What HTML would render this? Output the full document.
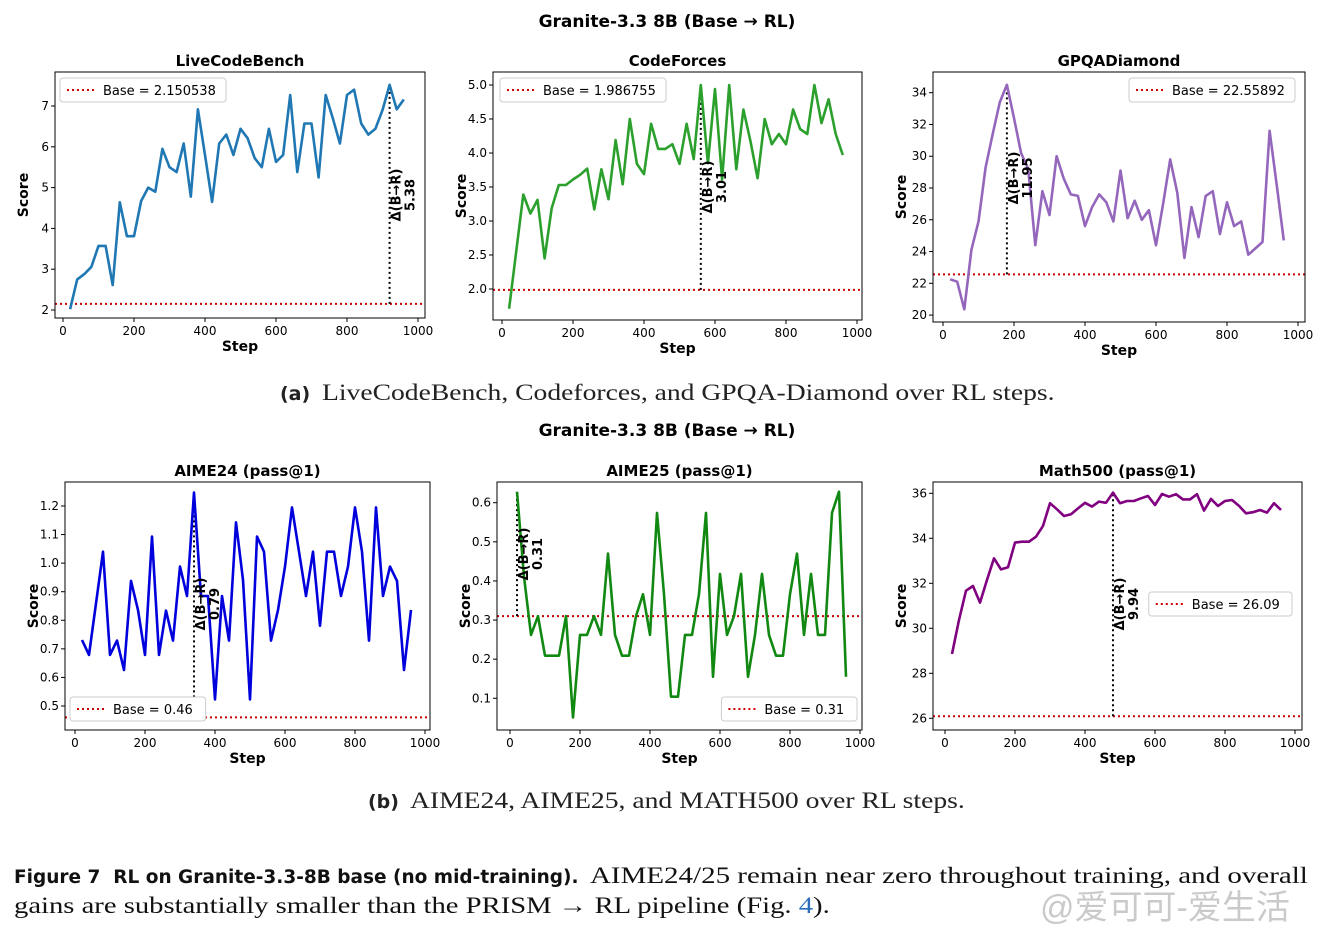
<!DOCTYPE html>
<html><head><meta charset="utf-8"><style>
body{margin:0;background:#fff;width:1335px;height:930px;overflow:hidden;position:relative;font-family:"DejaVu Sans","Liberation Sans",sans-serif}
.cap{position:absolute;font-family:"Liberation Serif",serif;font-size:23px;color:#222;white-space:nowrap}
.cap b{font-family:"DejaVu Sans",sans-serif;font-size:19px}
.sc{display:inline-block;transform-origin:0 50%}
.fig{position:absolute;left:14px;font-family:"Liberation Serif",serif;font-size:23px;color:#111;white-space:nowrap}
.fig b{font-family:"DejaVu Sans",sans-serif;font-size:18.5px}
</style></head><body>
<svg id="chart" width="1335" height="930" style="position:absolute;left:0;top:0">
<text x="667" y="27" text-anchor="middle" font-weight="bold" font-size="17">Granite-3.3 8B (Base → RL)</text>
<text x="667" y="436" text-anchor="middle" font-weight="bold" font-size="17">Granite-3.3 8B (Base → RL)</text>
</svg>
<div class="cap" style="left:280px;top:380px"><b>(a)</b>&nbsp; <span class="sc" style="transform:scaleX(1.2)">LiveCodeBench, Codeforces, and GPQA-Diamond over RL steps.</span></div>
<div class="cap" style="left:368px;top:788px"><b>(b)</b>&nbsp; <span class="sc" style="transform:scaleX(1.2)">AIME24, AIME25, and MATH500 over RL steps.</span></div>
<div class="fig" style="top:863px"><b>Figure 7&nbsp; RL on Granite-3.3-8B base (no mid-training).</b>&nbsp; <span class="sc" style="transform:scaleX(1.26)">AIME24/25 remain near zero throughout training, and overall</span></div>
<div class="fig" style="top:893px"><span class="sc" style="transform:scaleX(1.245)">gains are substantially smaller than the PRISM → RL pipeline (Fig. <span style="color:#2a6ebb">4</span>).</span></div>
<div style="position:absolute;left:1040px;top:880px;font-size:34px;color:rgba(150,150,150,0.5);font-family:'Liberation Sans','Noto Sans CJK SC',sans-serif;white-space:nowrap">@爱可可-爱生活</div>
<script>
const steps=[20,40,60,80,100,120,140,160,180,200,220,240,260,280,300,320,340,360,380,400,420,440,460,480,500,520,540,560,580,600,620,640,660,680,700,720,740,760,780,800,820,840,860,880,900,920,940,960];
const lcbValues=[2.02,2.75,2.88,3.06,3.57,3.57,2.61,4.64,3.81,3.81,4.67,5.0,4.9,5.95,5.5,5.38,6.08,4.78,6.92,5.8,4.65,6.08,6.3,5.8,6.44,6.21,5.72,5.5,6.44,5.63,5.8,7.27,5.38,6.57,6.57,5.25,7.27,6.7,6.08,7.27,7.4,6.57,6.3,6.44,6.9,7.52,6.92,7.16];
const cfValues=[1.71,2.55,3.39,3.11,3.31,2.45,3.19,3.53,3.53,3.61,3.68,3.77,3.17,3.76,3.32,4.19,3.54,4.50,3.84,3.69,4.43,4.06,4.06,4.13,3.84,4.43,3.91,5.0,3.85,4.94,3.61,5.0,3.76,4.64,4.17,3.63,4.50,4.13,4.28,4.13,4.64,4.35,4.28,5.0,4.44,4.79,4.28,3.97];
const gpqaValues=[22.25,22.1,20.36,24.1,25.9,29.3,31.4,33.4,34.5,32.4,30.2,29.2,24.4,27.8,26.3,30.0,28.6,27.6,27.5,25.6,26.8,27.6,27.1,25.9,29.1,26.1,27.2,26.0,26.6,24.4,27.0,29.8,27.7,23.6,26.8,24.9,27.5,27.8,25.1,27.1,25.6,25.9,23.8,24.2,24.6,31.6,28.2,24.7];
const aime24Values=[.731,.679,.859,1.040,.679,.729,.626,.938,.836,.679,1.093,.679,.834,.729,.988,.885,1.247,.885,.885,.523,.885,.729,1.143,.941,.523,1.093,1.040,.729,.836,.988,1.195,1.040,.885,1.040,.781,1.040,1.040,.885,.988,1.195,1.040,.729,1.195,.885,.988,.938,.626,.836];
const aime25Values=[.628,.411,.262,.310,.209,.209,.209,.310,.051,.262,.262,.310,.262,.470,.262,.209,.209,.310,.366,.262,.574,.366,.104,.104,.262,.262,.366,.574,.155,.418,.262,.310,.418,.155,.262,.418,.262,.209,.209,.366,.470,.262,.418,.262,.262,.574,.628,.155];
const mathValues=[28.86,30.37,31.67,31.88,31.14,32.15,33.11,32.62,32.71,33.81,33.85,33.85,34.07,34.55,35.56,35.29,34.99,35.07,35.33,35.58,35.41,35.63,35.58,36.03,35.56,35.66,35.66,35.78,35.88,35.48,35.97,35.85,35.96,35.73,35.73,35.96,35.23,35.75,35.44,35.66,35.70,35.44,35.11,35.16,35.26,35.14,35.56,35.26];
const baseValues=[2.150538,1.986755,22.55892,0.46,0.31,26.09];
const baseLabels=["Base = 2.150538","Base = 1.986755","Base = 22.55892","Base = 0.46","Base = 0.31","Base = 26.09"];
const deltaLabels=["5.38","3.01","11.95","0.79","0.31","9.94"];
const titles=["LiveCodeBench","CodeForces","GPQADiamond","AIME24 (pass@1)","AIME25 (pass@1)","Math500 (pass@1)"];
const xTicks=[0,200,400,600,800,1000];
const yTicks=[[2,3,4,5,6,7],[2.0,2.5,3.0,3.5,4.0,4.5,5.0],[20,22,24,26,28,30,32,34],[0.5,0.6,0.7,0.8,0.9,1.0,1.1,1.2],[0.1,0.2,0.3,0.4,0.5,0.6],[26,28,30,32,34,36]];
const series=[lcbValues,cfValues,gpqaValues,aime24Values,aime25Values,mathValues];
const panels=[
 {box:[55,72,425,318],x0:63,x1:418,v0:2,p0:310,v1:7,p1:106,color:"#1f77b4",w:2.6,leg:[60,78,'l'],dc:195,dec:0},
 {box:[493,72,862,320],x0:502,x1:857,v0:2,p0:289,v1:5,p1:85,color:"#2ca02c",w:2.6,leg:[500,78,'l'],dc:187,dec:1},
 {box:[933,72,1305,322],x0:943,x1:1298,v0:22,p0:283.3,v1:34,p1:92.7,color:"#9467bd",w:2.6,leg:[1295,78,'r'],dc:178,dec:0},
 {box:[65,482,430,730],x0:75,x1:425,v0:0.5,p0:706,v1:1.2,p1:506,color:"#0000dd",w:2.6,leg:[70,697,'l'],dc:604,dec:1},
 {box:[497,482,862,730],x0:510,x1:860,v0:0.1,p0:698.3,v1:0.6,p1:502.7,color:"#118811",w:2.6,leg:[857,697,'r'],dc:554,dec:1},
 {box:[933,482,1302,730],x0:945,x1:1295,v0:26,p0:718.3,v1:36,p1:493.3,color:"#800080",w:2.6,leg:[1292,592,'r'],dc:604,dec:0}];
const NS="http://www.w3.org/2000/svg";
const svg=document.getElementById('chart');
function mk(tag,attrs,parent,txt){const e=document.createElementNS(NS,tag);for(const k in attrs)e.setAttribute(k,attrs[k]);if(txt!==undefined)e.textContent=txt;(parent||svg).appendChild(e);return e;}
panels.forEach((p,i)=>{
 const g=mk('g',{});
 
 
 const sx=v=>p.x0+(v/1000)*(p.x1-p.x0);
 const sy=v=>p.p0+(v-p.v0)*(p.p1-p.p0)/(p.v1-p.v0);
 const [L,T,R,B]=p.box;
 const t=mk('text',{x:(L+R)/2,y:T-6,'text-anchor':'middle','font-weight':'bold','font-size':15},g,titles[i]);
 
 
 xTicks.forEach(v=>{mk('line',{x1:sx(v),x2:sx(v),y1:B,y2:B+4,stroke:'#000'},g);
  const tl=mk('text',{x:sx(v),y:B+17,'text-anchor':'middle','font-size':12},g,v);
  
  });
 yTicks[i].forEach(v=>{mk('line',{x1:L-4,x2:L,y1:sy(v),y2:sy(v),stroke:'#000'},g);
  const tl=mk('text',{x:L-6,y:sy(v)+4,'text-anchor':'end','font-size':12},g,v.toFixed(p.dec));
  
  });
 const xl=mk('text',{x:(L+R)/2,y:B+33,'text-anchor':'middle','font-weight':'bold','font-size':14},g,'Step');
 
 
 const yl=mk('text',{transform:`translate(${L-27},${(T+B)/2}) rotate(-90)`,'text-anchor':'middle','font-weight':'bold','font-size':14},g,'Score');
 
 
 const vals=series[i];
 let pk=0;vals.forEach((v,k)=>{if(v>vals[pk])pk=k;});
 const bl=mk('line',{x1:L,x2:R,y1:sy(baseValues[i]),y2:sy(baseValues[i]),stroke:'#cc0000','stroke-width':2,'stroke-dasharray':'2,3'},g);
 
 
 const vl=mk('line',{x1:sx(steps[pk]),x2:sx(steps[pk]),y1:sy(baseValues[i]),y2:sy(vals[pk]),stroke:'#000','stroke-width':2,'stroke-dasharray':'2,3'},g);
 
 
 const pts=vals.map((v,k)=>sx(steps[k]).toFixed(1)+','+sy(v).toFixed(1)).join(' ');
 const pl=mk('polyline',{points:pts,fill:'none',stroke:p.color,'stroke-width':p.w,'stroke-linejoin':'round'},g);
 
 
 const dx=sx(steps[pk]);
 const dt=mk('text',{transform:`translate(${dx+11},${p.dc}) rotate(-90)`,'text-anchor':'middle','font-weight':'bold','font-size':13},g,'Δ(B→R)');
 
 
 const dv=mk('text',{transform:`translate(${dx+25},${p.dc}) rotate(-90)`,'text-anchor':'middle','font-weight':'bold','font-size':13},g,deltaLabels[i]);
 
 
 const lw=baseLabels[i].length*7.6+52;
 const lx=p.leg[2]==='l'?p.leg[0]:p.leg[0]-lw;
 const lg=mk('g',{},g);
 
 
 mk('rect',{x:lx,y:p.leg[1],width:lw,height:24,rx:3,fill:'#fff',stroke:'#ccc'},lg);
 mk('line',{x1:lx+7,x2:lx+35,y1:p.leg[1]+12,y2:p.leg[1]+12,stroke:'#cc0000','stroke-width':2,'stroke-dasharray':'2,3'},lg);
 mk('text',{x:lx+43,y:p.leg[1]+17,'font-size':13},lg,baseLabels[i]);
 const fr=mk('rect',{x:L,y:T,width:R-L,height:B-T,fill:'none',stroke:'#000','stroke-width':1},g);
 
 
});
</script>
</body></html>
